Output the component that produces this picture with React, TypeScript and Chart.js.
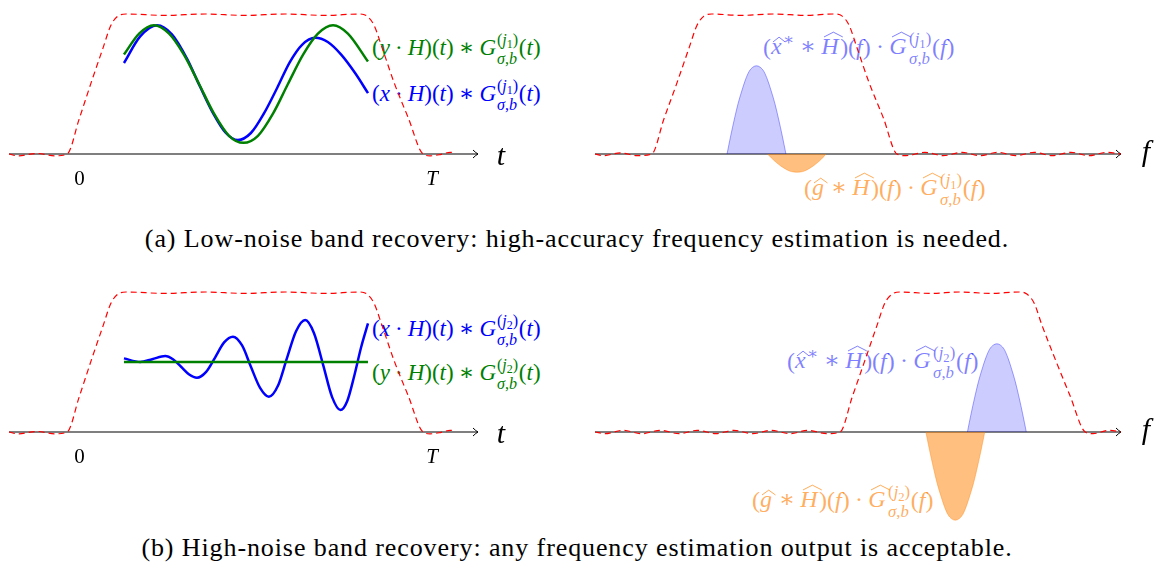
import React, { useEffect, useRef } from "react";
import { Chart, registerables } from "chart.js";

Chart.register(...registerables);

// ---------- time-domain window H (identical on both rows) ----------
const windowT = [-2.0, -1.75, -1.2, -0.7, -0.35, -0.01, 0.33, 0.67, 0.89, 1.09, 1.32, 2.42, 3.56, 4.69, 5.83, 6.96, 7.96, 8.15, 8.35, 8.58, 8.92, 9.32, 9.74, 9.94, 10.23, 10.51, 10.65];
const windowH = [0, -0.013, 0.004, -0.013, 0, 0.25, 0.51, 0.76, 0.92, 0.985, 1.0, 0.99, 1.0, 0.99, 1.0, 0.99, 1.0, 0.985, 0.92, 0.76, 0.51, 0.26, 0, -0.013, -0.004, 0.012, 0.01];

// ---------- row (a): low noise, time domain ----------
const lowYT = [1.26, 1.69, 2.11, 2.54, 2.96, 3.39, 3.81, 4.24, 4.65, 5.06, 5.49, 5.91, 6.34, 6.76, 7.19, 7.61, 8.18];
const lowY = [0.71, 0.86, 0.92, 0.86, 0.71, 0.5, 0.29, 0.13, 0.08, 0.13, 0.29, 0.5, 0.71, 0.86, 0.92, 0.86, 0.66];
const lowXT = [1.26, 1.72, 2.2, 2.62, 3.05, 3.42, 3.79, 4.15, 4.49, 4.86, 5.23, 5.6, 5.96, 6.31, 6.68, 7.04, 7.42, 7.81, 8.18];
const lowX = [0.65, 0.84, 0.92, 0.855, 0.68, 0.48, 0.29, 0.15, 0.1, 0.15, 0.29, 0.47, 0.655, 0.78, 0.83, 0.8, 0.71, 0.58, 0.435];

// ---------- row (b): high noise, time domain ----------
const highXT = [1.26, 1.72, 2.06, 2.43, 2.65, 2.88, 3.11, 3.33, 3.59, 3.84, 4.1, 4.35, 4.61, 4.86, 5.12, 5.37, 5.63, 5.88, 6.14, 6.4, 6.65, 6.91, 7.16, 7.4, 7.59, 7.79, 7.98, 8.18];
const highX = [0.526, 0.5, 0.52, 0.543, 0.52, 0.466, 0.411, 0.388, 0.43, 0.53, 0.64, 0.681, 0.618, 0.466, 0.315, 0.252, 0.332, 0.526, 0.72, 0.8, 0.706, 0.478, 0.251, 0.157, 0.22, 0.4, 0.6, 0.776];
const highYT = [1.26, 8.18];
const highY = [0.5, 0.5];

// ---------- row (a): frequency domain ----------
const lowWinF = [0, 0.15, 0.48, 0.8, 1.08, 1.31, 1.56, 1.79, 1.94, 2.07, 2.22, 2.76, 3.42, 3.99, 4.56, 4.7, 4.83, 4.98, 5.21, 5.48, 5.74, 5.91, 6.27, 6.62, 6.98, 7.32, 7.66, 8.0, 8.35, 8.69, 9.05, 9.39, 9.73, 10.0];
const lowWinH = [0, -0.012, 0.008, -0.012, 0, 0.25, 0.51, 0.76, 0.92, 0.985, 1.0, 0.99, 1.0, 0.99, 1.0, 0.985, 0.92, 0.76, 0.51, 0.26, 0, -0.012, 0.012, -0.012, 0.012, -0.012, 0.012, -0.012, 0.012, -0.012, 0.012, -0.012, 0.012, 0];
const lowSigF = [2.51, 2.58, 2.65, 2.72, 2.79, 2.86, 2.93, 3.0, 3.07, 3.14, 3.21, 3.28, 3.35, 3.42, 3.49, 3.56, 3.63];
const lowSig = [0, 0.13, 0.25, 0.36, 0.45, 0.53, 0.59, 0.62, 0.63, 0.62, 0.59, 0.53, 0.45, 0.36, 0.25, 0.13, 0];
const lowNoiseF = [3.28, 3.35, 3.42, 3.49, 3.56, 3.63, 3.7, 3.77, 3.84, 3.91, 3.98, 4.05, 4.12, 4.19, 4.26, 4.33, 4.39];
const lowNoise = [0, -0.027, -0.052, -0.074, -0.093, -0.109, -0.122, -0.128, -0.13, -0.128, -0.122, -0.109, -0.093, -0.074, -0.052, -0.027, 0];

// ---------- row (b): frequency domain ----------
const highWinF = [0, 0.19, 0.53, 0.89, 1.24, 1.6, 1.94, 2.3, 2.64, 3.0, 3.35, 3.71, 4.05, 4.41, 4.66, 4.89, 5.13, 5.36, 5.51, 5.65, 5.8, 6.37, 6.94, 7.51, 8.08, 8.21, 8.35, 8.5, 8.76, 9.03, 9.32, 9.47, 9.77, 10.0];
const highWinH = [0, -0.012, 0.012, -0.012, 0.012, -0.012, 0.012, -0.012, 0.012, -0.012, 0.012, -0.012, 0.012, -0.012, 0, 0.25, 0.51, 0.76, 0.92, 0.985, 1.0, 0.99, 1.0, 0.99, 1.0, 0.985, 0.92, 0.76, 0.51, 0.26, 0, -0.012, 0.012, 0];
const highSigF = [7.08, 7.15, 7.22, 7.29, 7.36, 7.43, 7.5, 7.57, 7.64, 7.71, 7.78, 7.85, 7.92, 7.99, 8.06, 8.13, 8.2];
const highSig = [0, 0.13, 0.25, 0.36, 0.45, 0.53, 0.59, 0.62, 0.63, 0.62, 0.59, 0.53, 0.45, 0.36, 0.25, 0.13, 0];
const highNoiseF = [6.29, 6.36, 6.43, 6.5, 6.57, 6.64, 6.71, 6.78, 6.85, 6.92, 6.99, 7.06, 7.13, 7.2, 7.27, 7.34, 7.41];
const highNoise = [0, -0.13, -0.25, -0.36, -0.45, -0.53, -0.59, -0.62, -0.63, -0.62, -0.59, -0.53, -0.45, -0.36, -0.25, -0.13, 0];

// axis tick labels of the time panels
const timeTicks = [
  { v: 0, text: "0", italic: false },
  { v: 10, text: "T", italic: true },
];

const captionA = "(a) Low-noise band recovery: high-accuracy frequency estimation is needed.";
const captionB = "(b) High-noise band recovery: any frequency estimation output is acceptable.";

const SERIF = '"Liberation Serif", "DejaVu Serif", serif';
const RED = "#ff0000";
const GREEN = "#008000";
const BLUE = "#0000ff";
const SOFT_BLUE = "rgba(0,0,255,0.5)";
const SOFT_ORANGE = "rgba(255,128,0,0.65)";

type Trace = {
  xs: number[];
  ys: number[];
  color: string;
  width: number;
  dash?: number[];
  fill?: string;
  order: number;
};

type Tick = { v: number; text: string; italic: boolean };

// Draws the horizontal axis with its arrow head, the axis name and tick labels.
const axisPlugin = {
  id: "axisArrow",
  beforeDatasetsDraw(chart: any) {
    const { ctx, chartArea, scales } = chart;
    const y0 = scales.y.getPixelForValue(0);
    ctx.save();
    ctx.strokeStyle = "#000";
    ctx.lineWidth = 1.2;
    ctx.beginPath();
    ctx.moveTo(chartArea.left, y0);
    ctx.lineTo(chartArea.right, y0);
    ctx.stroke();
    ctx.lineWidth = 1;
    ctx.beginPath();
    ctx.moveTo(chartArea.right - 5, y0 - 4);
    ctx.quadraticCurveTo(chartArea.right - 2, y0 - 1, chartArea.right, y0);
    ctx.quadraticCurveTo(chartArea.right - 2, y0 + 1, chartArea.right - 5, y0 + 4);
    ctx.stroke();
    ctx.restore();
  },
  afterDraw(chart: any, _args: any, opts: any) {
    const { ctx, chartArea, scales } = chart;
    const y0 = scales.y.getPixelForValue(0);
    ctx.save();
    ctx.fillStyle = "#000";
    ctx.textAlign = "center";
    ctx.textBaseline = "alphabetic";
    ctx.font = `italic 30px ${SERIF}`;
    ctx.fillText(opts.name, chartArea.right + opts.nameGap, y0 + opts.nameDrop);
    (opts.ticks || []).forEach((t: Tick) => {
      ctx.font = `${t.italic ? "italic " : ""}21px ${SERIF}`;
      ctx.fillText(t.text, scales.x.getPixelForValue(t.v), y0 + 31);
    });
    ctx.restore();
  },
};

type PanelProps = {
  left: number;
  top: number;
  width: number;
  height: number;
  padL: number;
  padR: number;
  xMin: number;
  xMax: number;
  yMin: number;
  yMax: number;
  traces: Trace[];
  name: string;
  nameGap: number;
  nameDrop: number;
  ticks?: Tick[];
};

function Panel(p: PanelProps) {
  const ref = useRef<HTMLCanvasElement>(null);
  useEffect(() => {
    const chart = new Chart(ref.current as HTMLCanvasElement, {
      type: "line",
      data: {
        datasets: p.traces.map((t) => ({
          data: t.xs.map((x, i) => ({ x, y: t.ys[i] })),
          borderColor: t.color,
          borderWidth: t.width,
          borderDash: t.dash || [],
          fill: t.fill ? "origin" : false,
          backgroundColor: t.fill || "transparent",
          pointRadius: 0,
          cubicInterpolationMode: "monotone",
          order: t.order,
          clip: false,
        })),
      },
      options: {
        animation: false,
        responsive: false,
        maintainAspectRatio: false,
        layout: { padding: { left: p.padL, right: p.padR, top: 0, bottom: 0 } },
        scales: {
          x: { type: "linear", min: p.xMin, max: p.xMax, display: false },
          y: { type: "linear", min: p.yMin, max: p.yMax, display: false },
        },
        plugins: {
          legend: { display: false },
          tooltip: { enabled: false },
          axisArrow: { name: p.name, nameGap: p.nameGap, nameDrop: p.nameDrop, ticks: p.ticks },
        } as any,
      },
      plugins: [axisPlugin],
    } as any);
    return () => chart.destroy();
  }, []);
  return (
    <canvas
      ref={ref}
      width={p.width}
      height={p.height}
      style={{ position: "absolute", left: p.left, top: p.top, width: p.width, height: p.height }}
    />
  );
}

// ---------- math label pieces ----------
const I = ({ children }: { children: React.ReactNode }) => <i>{children}</i>;

const Op = ({ c }: { c: string }) => <span style={{ margin: "0 0.22em" }}>{c}</span>;

const Hat = ({ children, low }: { children: React.ReactNode; low?: boolean }) => (
  <span style={{ position: "relative", display: "inline-block", paddingRight: "0.06em" }}>
    {children}
    <svg
      viewBox="0 0 10 3"
      preserveAspectRatio="none"
      style={{
        position: "absolute",
        left: "0.1em",
        width: "100%",
        height: "0.2em",
        top: low ? "0.12em" : "-0.1em",
        overflow: "visible",
      }}
    >
      <path d="M0 3 L5 0 L10 3" fill="none" stroke="currentColor" strokeWidth={1} vectorEffect="non-scaling-stroke" />
    </svg>
  </span>
);

const Scr = ({ j }: { j: string }) => (
  <span
    style={{
      display: "inline-flex",
      flexDirection: "column",
      fontSize: "0.7em",
      lineHeight: 0.95,
      verticalAlign: "0.62em",
      marginLeft: "0.06em",
      marginRight: "0.04em",
    }}
  >
    <span>
      (<I>j</I>
      <span style={{ fontSize: "0.75em", verticalAlign: "-0.3em" }}>{j}</span>)
    </span>
    <span>
      <I>σ</I>,<I>b</I>
    </span>
  </span>
);

const Label = ({ x, y, color, size, children }: { x: number; y: number; color: string; size: number; children: React.ReactNode }) => (
  <div
    style={{
      position: "absolute",
      left: x,
      top: y,
      transform: "translateY(-50%)",
      color,
      fontFamily: SERIF,
      fontSize: size,
      lineHeight: 1,
      whiteSpace: "nowrap",
    }}
  >
    {children}
  </div>
);

const TimeLabel = ({ v, j }: { v: string; j: string }) => (
  <>
    (<I>{v}</I>
    <Op c="·" />
    <I>H</I>)(<I>t</I>)<Op c="∗" />
    <I>G</I>
    <Scr j={j} />(<I>t</I>)
  </>
);

const SigLabel = ({ j }: { j: string }) => (
  <>
    (<Hat low>
      <I>x</I>
    </Hat>
    <span style={{ fontSize: "0.7em", verticalAlign: "0.55em" }}>∗</span>
    <Op c="∗" />
    <Hat>
      <I>H</I>
    </Hat>
    )(<I>f</I>)<Op c="·" />
    <Hat>
      <I>G</I>
    </Hat>
    <Scr j={j} />(<I>f</I>)
  </>
);

const NoiseLabel = ({ j }: { j: string }) => (
  <>
    (<Hat low>
      <I>g</I>
    </Hat>
    <Op c="∗" />
    <Hat>
      <I>H</I>
    </Hat>
    )(<I>f</I>)<Op c="·" />
    <Hat>
      <I>G</I>
    </Hat>
    <Scr j={j} />(<I>f</I>)
  </>
);

const Caption = ({ y, text }: { y: number; text: string }) => (
  <div
    style={{
      position: "absolute",
      left: 0,
      width: 1154,
      top: y,
      transform: "translateY(-50%)",
      textAlign: "center",
      fontFamily: SERIF,
      fontSize: 26,
      letterSpacing: 0.9,
      lineHeight: 1,
      color: "#000",
      whiteSpace: "nowrap",
    }}
  >
    {text}
  </div>
);

const red = (xs: number[], ys: number[]): Trace => ({ xs, ys, color: RED, width: 1.2, dash: [6, 4], order: 0 });

export default function App() {
  const timeCommon = { left: 0, width: 540, padL: 9, padR: 62, xMin: -2, xMax: 11.3, name: "t", nameGap: 23, nameDrop: 11, ticks: timeTicks };
  const freqCommon = { left: 560, width: 594, padL: 35, padR: 33, xMin: 0, xMax: 10, name: "f", nameGap: 25, nameDrop: 7 };
  const topRow = { top: 0, height: 210, yMin: -0.4, yMax: 1.1 };
  const bottomRow = { top: 278, height: 252, yMin: -0.7, yMax: 1.1 };

  return (
    <div style={{ position: "absolute", left: 0, top: 0, width: 1154, height: 563, background: "#fff", overflow: "hidden" }}>
      <Label x={372} y={49} color={GREEN} size={23}>
        <TimeLabel v="y" j="1" />
      </Label>
      <Label x={372} y={95} color={BLUE} size={23}>
        <TimeLabel v="x" j="1" />
      </Label>
      <Label x={763} y={49} color={SOFT_BLUE} size={24}>
        <SigLabel j="1" />
      </Label>
      <Label x={804} y={190} color={SOFT_ORANGE} size={24}>
        <NoiseLabel j="1" />
      </Label>
      <Label x={372} y={330} color={BLUE} size={23}>
        <TimeLabel v="x" j="2" />
      </Label>
      <Label x={372} y={374} color={GREEN} size={23}>
        <TimeLabel v="y" j="2" />
      </Label>
      <Label x={787} y={363} color={SOFT_BLUE} size={24}>
        <SigLabel j="2" />
      </Label>
      <Label x={752} y={502} color={SOFT_ORANGE} size={24}>
        <NoiseLabel j="2" />
      </Label>

      <Panel
        {...timeCommon}
        {...topRow}
        traces={[
          red(windowT, windowH),
          { xs: lowYT, ys: lowY, color: GREEN, width: 2.5, order: 1 },
          { xs: lowXT, ys: lowX, color: BLUE, width: 2.5, order: 2 },
        ]}
      />
      <Panel
        {...freqCommon}
        {...topRow}
        traces={[
          red(lowWinF, lowWinH),
          { xs: lowSigF, ys: lowSig, color: "rgba(0,0,255,0.45)", width: 0.8, fill: "rgba(0,0,255,0.2)", order: 1 },
          { xs: lowNoiseF, ys: lowNoise, color: "rgba(255,128,0,0.5)", width: 0.8, fill: "rgba(255,128,0,0.5)", order: 2 },
        ]}
      />
      <Panel
        {...timeCommon}
        {...bottomRow}
        traces={[
          red(windowT, windowH),
          { xs: highYT, ys: highY, color: GREEN, width: 2.5, order: 1 },
          { xs: highXT, ys: highX, color: BLUE, width: 2.5, order: 2 },
        ]}
      />
      <Panel
        {...freqCommon}
        {...bottomRow}
        traces={[
          red(highWinF, highWinH),
          { xs: highSigF, ys: highSig, color: "rgba(0,0,255,0.45)", width: 0.8, fill: "rgba(0,0,255,0.2)", order: 1 },
          { xs: highNoiseF, ys: highNoise, color: "rgba(255,128,0,0.5)", width: 0.8, fill: "rgba(255,128,0,0.5)", order: 2 },
        ]}
      />

      <Caption y={239} text={captionA} />
      <Caption y={548} text={captionB} />
    </div>
  );
}
